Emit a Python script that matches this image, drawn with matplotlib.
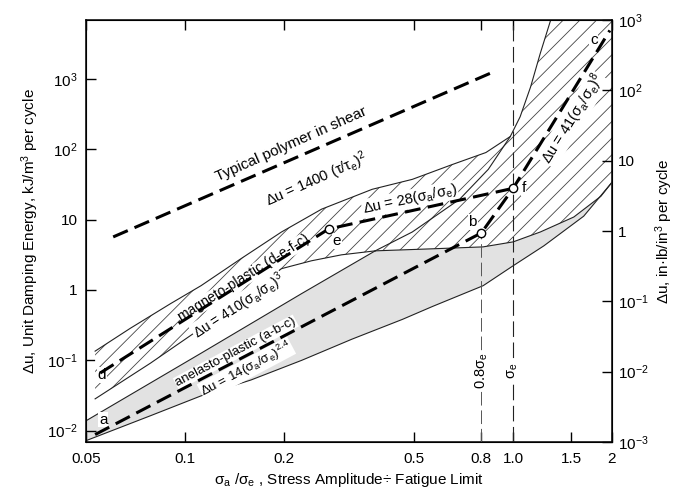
import numpy as np
import matplotlib
matplotlib.use('Agg')
from matplotlib import pyplot as plt
from matplotlib.ticker import NullLocator

plt.rcParams['font.family'] = ['Liberation Sans', 'DejaVu Sans']
plt.rcParams['mathtext.fontset'] = 'custom'
plt.rcParams['mathtext.rm'] = 'Liberation Sans'
plt.rcParams['mathtext.it'] = 'Liberation Sans:italic'
plt.rcParams['hatch.linewidth'] = 0.6

KJ_PER_INLB = 6.895  # 1 in-lb/in^3 in kJ/m^3

# axis ticks
x_ticks = [0.05, 0.1, 0.2, 0.5, 0.8, 1.0, 1.5, 2]
x_ticklabels = ['0.05', '0.1', '0.2', '0.5', '0.8', '1.0', '1.5', '2']
y_ticks = [1e-2, 1e-1, 1, 10, 1e2, 1e3]
y_ticklabels = ['10$^{-2}$', '10$^{-1}$', '1', '10', '10$^{2}$', '10$^{3}$']
y2_ticks = [1e-3, 1e-2, 1e-1, 1, 10, 1e2, 1e3]
y2_ticklabels = ['10$^{-3}$', '10$^{-2}$', '10$^{-1}$', '1', '10', '10$^{2}$', '10$^{3}$']

# magneto-plastic band (hatched), sigma_a/sigma_e vs kJ/m^3
mag_up_x = [0.0533, 0.0682, 0.0905, 0.112, 0.148, 0.197, 0.261, 0.372, 0.493, 0.654, 0.826, 0.98, 1.05, 1.13, 1.21, 1.30]
mag_up_y = [0.135, 0.285, 0.64, 1.15, 2.77, 6.68, 14.1, 27, 37.4, 61, 90, 152, 290, 771, 2330, 6810]
mag_lo_x = [0.0533, 0.0786, 0.112, 0.159, 0.197, 0.243, 0.30, 0.38, 0.568, 0.81, 1.0, 1.21, 1.53, 1.85, 2.0]
mag_lo_y = [0.0283, 0.0912, 0.285, 0.95, 2.01, 2.60, 3.16, 3.60, 3.85, 4.10, 4.83, 6.68, 10.9, 21.5, 34]

# anelasto-plastic band (grey)
ane_lo_x = [0.05, 0.0786, 0.112, 0.159, 0.227, 0.323, 0.46, 0.568, 0.81, 1.0, 1.24, 1.64, 2.0]
ane_lo_y = [0.0072, 0.0163, 0.0312, 0.0525, 0.10, 0.20, 0.382, 0.583, 1.15, 2.21, 4.24, 11.2, 34]
ane_up_x = [0.05, 0.112, 0.227, 0.38]
ane_up_y = [0.0138, 0.126, 0.89, 3.6]
# upper edge of the anelastic band seen through the hatching
ane_up2_x = [0.38, 0.493, 0.687, 0.84, 0.98]
ane_up2_y = [3.6, 6.68, 19.5, 51.9, 152]

# dashed model lines
polymer_x = [0.0605, 0.855]
polymer_y = [5.68, 1215]
abc_x = [0.0533, 0.8, 1.0, 1.97]
abc_y = [0.0088, 6.47, 27.9, 4900]
def_x = [0.0552, 0.274, 1.0]
def_y = [0.0659, 7.36, 27.9]

# open circles e, b, f
pts_x = [0.274, 0.8, 1.0]
pts_y = [7.36, 6.47, 27.9]

# point letters
letters = ['a', 'b', 'c', 'd', 'e', 'f']
letter_x = [0.0564, 0.753, 1.76, 0.0559, 0.29, 1.075]
letter_y = [0.0143, 9.25, 3560, 0.0618, 4.99, 27.9]

fig = plt.figure(figsize=(6.75, 4.94), dpi=100)
ax = fig.add_axes([86 / 675, 1 - 442 / 494, 526 / 675, 422 / 494])
ax.set_xscale('log')
ax.set_yscale('log')
xlim = (0.05, 2.0)
ylim = (1e-3 * KJ_PER_INLB, 1e3 * KJ_PER_INLB)
ax.set_xlim(xlim)
ax.set_ylim(ylim)

# grey band: under its own upper edge, then under the hatched band
m = np.array(mag_lo_x) >= ane_up_x[-1]
top_x = np.r_[ane_up_x, np.array(mag_lo_x)[m]]
top_y = np.r_[ane_up_y, np.array(mag_lo_y)[m]]
ax.fill(np.r_[ane_lo_x, top_x[::-1]], np.r_[ane_lo_y, top_y[::-1]],
        color='#e2e2e2', lw=0, zorder=1)

# hatched band, closed along the top and right edges
hx = np.r_[mag_up_x, mag_up_x[-1], xlim[1], mag_lo_x[::-1]]
hy = np.r_[mag_up_y, ylim[1], ylim[1], mag_lo_y[::-1]]
ax.fill(hx, hy, facecolor='white', edgecolor='#444444', hatch='//', lw=0, zorder=2)

for bx, by in [(mag_up_x, mag_up_y), (mag_lo_x, mag_lo_y), (ane_lo_x, ane_lo_y),
               (ane_up_x, ane_up_y), (ane_up2_x, ane_up2_y)]:
    ax.plot(bx, by, color='#222222', lw=0.8, zorder=3)

# reference lines at 0.8 sigma_e and sigma_e
ax.plot([0.8, 0.8], [ylim[0], pts_y[1]], color='#555555', lw=0.7, ls=(0, (14, 5)), zorder=3)
ax.axvline(1.0, color='#222222', lw=0.8, ls=(0, (14, 5)), zorder=3)

dash = (0, (5.2, 2.4))
ax.plot(polymer_x, polymer_y, color='k', lw=2.2, ls=dash, zorder=5)
ax.plot(abc_x, abc_y, color='k', lw=2.2, ls=dash, zorder=5)
ax.plot(def_x, def_y, color='k', lw=2.2, ls=dash, zorder=5)
ax.plot(pts_x, pts_y, 'o', ms=6, mfc='white', mec='k', mew=1, zorder=6)

wbox = dict(facecolor='white', edgecolor='none', pad=0.5)
for s, lx, ly in zip(letters, letter_x, letter_y):
    ax.text(lx, ly, s, fontsize=11, ha='center', va='center', bbox=wbox, zorder=4)


def band_label(x, y, s, rot, size):
    # white patch under the dashes, letters on top of them
    ax.text(x, y, s, rotation=rot, ha='center', va='center', fontsize=size,
            color='none', bbox=wbox, zorder=4)
    ax.text(x, y, s, rotation=rot, ha='center', va='center', fontsize=size, zorder=7)


sub = r'(σ$_\mathrm{a}$/σ$_\mathrm{e}$)'
ax.text(0.211, 117, 'Typical polymer in shear', rotation=24, ha='center', va='center', fontsize=11)
ax.text(0.252, 37, r'Δu = 1400 (τ/τ$_\mathrm{e}$)$^2$', rotation=24, ha='center', va='center', fontsize=10.5)
ax.text(0.485, 19.5, 'Δu = 28' + sub, rotation=12, ha='center', va='center', fontsize=10.5,
        bbox=wbox, zorder=4)
ax.text(1.52, 270, 'Δu = 41' + sub + '$^8$', rotation=58, ha='center', va='center', fontsize=10.5,
        bbox=wbox, zorder=4)
band_label(0.1515, 1.48, 'magneto-plastic (d-e-f-c)', 32, 10)
band_label(0.146, 0.58, 'Δu = 410' + sub + '$^3$', 33, 10)
band_label(0.143, 0.13, 'anelasto-plastic (a-b-c)', 28, 9.5)
band_label(0.154, 0.075, 'Δu = 14' + sub + '$^{2.4}$', 28, 9.5)
ax.text(0.8, 0.0703, '0.8σ$_\mathrm{e}$', rotation=90, ha='center', va='center', fontsize=10.5,
        bbox=wbox, zorder=4)
ax.text(1.0, 0.0703, 'σ$_\mathrm{e}$', rotation=90, ha='center', va='center', fontsize=10.5,
        bbox=wbox, zorder=4)

ax.set_xticks(x_ticks)
ax.set_xticklabels(x_ticklabels)
ax.set_yticks(y_ticks)
ax.set_yticklabels(y_ticklabels)
ax.xaxis.set_minor_locator(NullLocator())
ax.yaxis.set_minor_locator(NullLocator())
ax.tick_params(direction='in', length=7, width=1, labelsize=11, top=True, right=False)
ax.tick_params(axis='x', pad=7)
ax.tick_params(axis='y', pad=6)
for sp in ax.spines.values():
    sp.set_linewidth(1.1)

ax2 = ax.twinx()
ax2.set_yscale('log')
ax2.set_ylim(ylim[0] / KJ_PER_INLB, ylim[1] / KJ_PER_INLB)
ax2.set_yticks(y2_ticks)
ax2.set_yticklabels(y2_ticklabels)
ax2.yaxis.set_minor_locator(NullLocator())
ax2.tick_params(direction='in', length=7, width=1, labelsize=11, pad=4)

ax.set_xlabel(r'σ$_\mathrm{a}$ /σ$_\mathrm{e}$ , Stress Amplitude÷ Fatigue Limit', fontsize=11, labelpad=4)
ax.set_ylabel('Δu, Unit Damping Energy, kJ/m$^3$ per cycle', fontsize=11, labelpad=4)
ax2.set_ylabel('Δu, in·lb/in$^3$ per cycle', fontsize=11, labelpad=4)

fig.savefig('out.png', dpi=100)
